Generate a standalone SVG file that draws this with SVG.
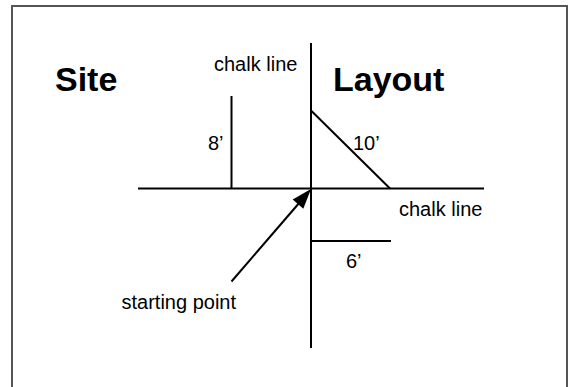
<svg xmlns="http://www.w3.org/2000/svg" width="569" height="387" viewBox="0 0 569 387">
<style>
.ln{stroke:#000;stroke-width:2;fill:none}
.t{font-family:"Liberation Sans",Arial,sans-serif;font-size:20px;fill:#000}
.b{font-family:"Liberation Sans",Arial,sans-serif;font-size:34px;font-weight:bold;fill:#000}
</style>
<rect x="12" y="6" width="555" height="400" fill="#fff" stroke="#555" stroke-width="2"/>
<g id="connectors">
<line class="ln" x1="311" y1="43" x2="311" y2="348"/>
<line class="ln" x1="138" y1="188.5" x2="484" y2="188.5"/>
<line class="ln" x1="231.5" y1="96" x2="231.5" y2="188.5"/>
<line class="ln" x1="311" y1="110.5" x2="390" y2="188.5"/>
<line class="ln" x1="311" y1="241" x2="391" y2="241"/>
<line class="ln" x1="231.5" y1="281.5" x2="300" y2="202"/>
<polygon points="311,189 303.3,208.8 292.7,199.6" fill="#000"/>
</g>
<g id="title">
<text class="b" x="55" y="91">Site</text>
<text class="b" x="333" y="91">Layout</text>
</g>
<g id="labels">
<text class="t" x="214" y="71">chalk line</text>
<text class="t" x="399" y="216">chalk line</text>
<text class="t" x="208" y="150">8’</text>
<text class="t" x="353" y="150">10’</text>
<text class="t" x="346" y="268">6’</text>
<text class="t" x="121.5" y="309">starting point</text>
</g>
</svg>
